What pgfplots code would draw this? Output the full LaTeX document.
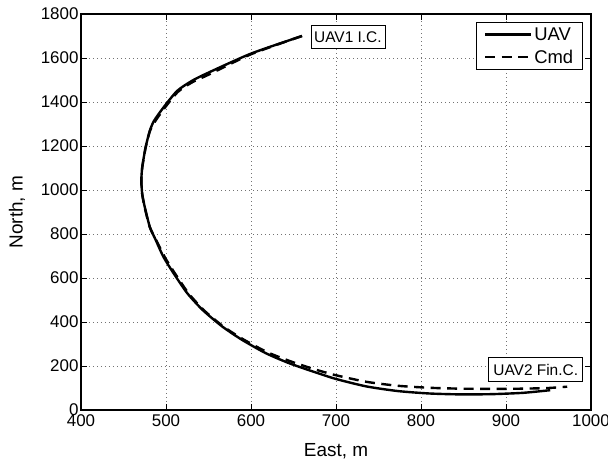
\documentclass[border=0pt]{standalone}
\usepackage{fontspec}
\setmainfont{Liberation Sans}
\usepackage{pgfplots}
\pgfplotsset{compat=1.18}

\begin{document}
\begin{tikzpicture}
\begin{axis}[
  name=ax,
  scale only axis, width=510bp, height=396bp,
  xmin=400, xmax=1000, ymin=0, ymax=1800,
  xtick={400,500,...,1000}, ytick={0,200,...,1800},
  grid=major,
  grid style={black!55, line width=0.6bp, dash pattern=on 0.7bp off 3.3bp},
  tick align=inside, major tick length=6bp,
  tick style={black, line width=0.8bp},
  axis line style={line width=1.3bp},
  /pgf/number format/assume math mode=true,
  /pgf/number format/1000 sep={},
  ticklabel style={font=\fontsize{17}{20}\selectfont},
  xticklabel style={yshift=-1.5bp},
  yticklabel style={xshift=1bp},
  label style={font=\fontsize{19}{22}\selectfont},
  xlabel={East, m}, ylabel={North, m},
  xlabel style={at={(axis description cs:0.5,-0.1035)}, anchor=center},
  ylabel style={at={(axis description cs:-0.1255,0.5)}, anchor=center},
  legend style={at={(0.984,0.98)}, anchor=north east, draw=black,
    line width=1.2bp, font=\fontsize{18.5}{21}\selectfont,
    inner xsep=7bp, inner ysep=3bp, row sep=4bp},
  legend cell align=left,
  legend image code/.code={\draw[#1, line width=2.6bp] (0bp,0bp) -- (46bp,0bp);},
]
\addplot[black, line width=2.4bp, smooth, tension=0.4] coordinates {
  (660,1700) (600,1620) (548,1530) (530,1495) (513,1450) (497,1375)
  (486,1315) (481,1270) (476,1194) (472,1103) (471,1043) (472,983)
  (475,923) (481,832) (488,772) (497,696) (509,621) (525,531)
  (543,455) (566,380) (589,320) (617,259) (644,214) (672,176)
  (700,141) (736,107) (773,86) (810,75) (846,71) (883,72)
  (920,78) (952,90)
};
\addplot[black, line width=2.4bp, dash pattern=on 10bp off 6.5bp, smooth, tension=0.4] coordinates {
  (660,1700) (600,1617) (550,1524) (531,1490) (514,1446) (498,1371)
  (487,1311) (481,1267) (476,1192) (472,1100) (471,1040) (472,980)
  (475,920) (481,830) (489,768) (499,692) (511,618) (527,528)
  (545,452) (568,378) (591,321) (619,263) (646,222) (673,187)
  (700,158) (736,128) (773,110) (810,101) (846,97) (883,96)
  (920,97) (950,100) (972,106)
};
\legend{UAV, Cmd}
\node[draw, fill=white, line width=0.6bp, inner sep=0bp, minimum width=74bp,
  minimum height=23bp, font=\fontsize{15.5}{17}\selectfont]
  at (axis cs:714,1695) {UAV1 I.C.};
\node[draw, fill=white, line width=0.6bp, inner sep=0bp, minimum width=94bp,
  minimum height=24bp, font=\fontsize{15.5}{17}\selectfont]
  at (axis cs:935,183) {UAV2 Fin.C.};
\end{axis}
\pgfresetboundingbox
\path ([shift={(-81bp,-55bp)}]ax.south west) rectangle ([shift={(17bp,14bp)}]ax.north east);
\end{tikzpicture}
\end{document}
